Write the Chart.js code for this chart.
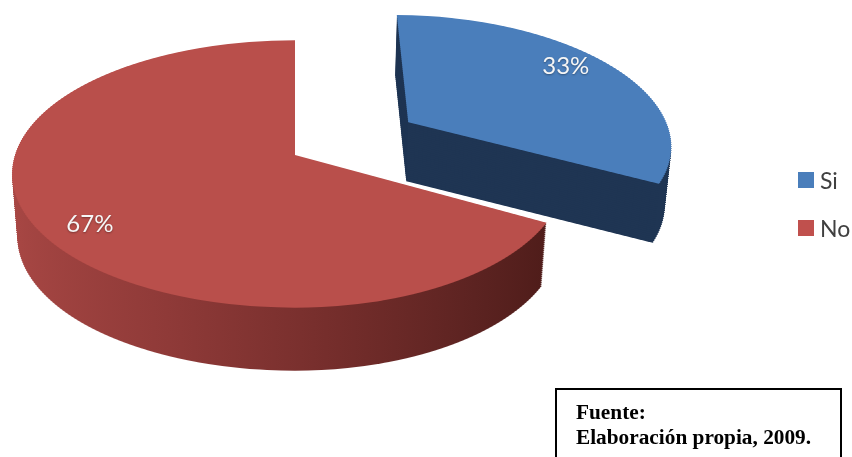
<!DOCTYPE html>
<html lang="es">
  <head>
    <meta charset="UTF-8" />
    <title>Si / No</title>
    <style>
      body { margin: 0; background: #fff; overflow: hidden; }
      #wrap { position: relative; width: 852px; height: 457px; overflow: hidden; }
      #pie { position: absolute; left: 0; top: 0; }
      .key {
        position: absolute; left: 798px; height: 16px; width: 60px;
        font: 23px/16px Lato, sans-serif; color: #404040;
      }
      .key i { position: absolute; left: 0; top: 0; width: 16px; height: 16px; }
      .key span { position: absolute; left: 22px; top: 0; }
      #fuente {
        position: absolute; left: 555px; top: 388px; width: 283px; height: 80px;
        border: 2px solid #000; box-sizing: content-box;
        font: bold 21.3px/25px "Liberation Serif", serif; color: #000;
      }
      #fuente div { position: absolute; left: 19px; top: 10px; white-space: nowrap; }
    </style>
  </head>
  <body>
    <div id="wrap">
      <canvas id="pie" width="852" height="457"></canvas>
      <div id="legend"></div>
      <div id="fuente"><div>Fuente:<br />Elaboración propia, 2009.</div></div>
    </div>

    <script src="https://cdn.jsdelivr.net/npm/chart.js"></script>
    <script>
      const categories = ["Si", "No"];
      const shares = [33, 67];
      const labels = ["33%", "67%"];
      const topColors = ["#4a7ebb", "#b94f4b"];
      const legendColors = ["#4a7ebb", "#c0504d"];

      // the pie is drawn flat by Chart.js and then squashed into perspective,
      // one thin strip of canvas at a time
      const RADIUS = 200;
      const X0 = 295, Y0 = 155;   // where the centre of the red slice lands
      const RX = 280, RY = 131;   // screen size of a unit radius
      const RIGHT_SIDE = 0.955;   // the reference is a bit narrower right of centre
      const TILT = 0.142;         // how much nearer things grow
      const DEPTH = [59, 63];     // wall height of each slice
      const STRIP = 2;
      const LABEL_R = 0.84, LABEL_TURN = 0.09;

      const vOf = (y) => (y - Y0) / (RY + TILT * (y - Y0));

      function drawWarped(ctx, arc, fill, drop) {
        const saved = arc.options;
        arc.options = Object.assign({}, saved, { backgroundColor: fill });
        const narrow = 1 - drop * 0.0003;
        for (let y = 0; y < 457; y += STRIP) {
          const v0 = vOf(y - drop);
          const v1 = vOf(y + STRIP - drop);
          const w = (narrow * RX) / RADIUS / (1 - TILT * (v0 + v1) / 2);
          [[0, X0, 1], [X0, 852, RIGHT_SIDE]].forEach(([from, to, k]) => {
            ctx.save();
            ctx.beginPath();
            ctx.rect(from, y, to - from, STRIP);
            ctx.clip();
            ctx.translate(X0, y);
            ctx.scale(w * k, STRIP / ((v1 - v0) * RADIUS));
            ctx.translate(-arc.x, -(arc.y + v0 * RADIUS));
            arc.draw(ctx);
            ctx.restore();
          });
        }
        arc.options = saved;
      }

      const project = (u, v) => ({
        x: X0 + ((u > 0 ? RIGHT_SIDE : 1) * RX * u) / (1 - TILT * v),
        y: Y0 + (RY * v) / (1 - TILT * v),
      });

      const perspectivePie = {
        id: "perspectivePie",
        beforeDatasetsDraw(chart) {
          const ctx = chart.ctx;
          const arcs = chart.getDatasetMeta(0).data;

          // Chart.js grows an exploded slice a little, take that back
          arcs.forEach((arc) => {
            const grow = (arc.options.offset / 4) * (1 - Math.sin(Math.min(Math.PI, arc.circumference)));
            arc.outerRadius = RADIUS - grow;
          });

          // gradient lives in the flat pie's space, so x is squeezed back
          const redWall = ctx.createLinearGradient(arcs[1].x - RADIUS, 0, arcs[1].x + RADIUS, 0);
          redWall.addColorStop(0, "#a84744");
          redWall.addColorStop(0.3, "#8f3a38");
          redWall.addColorStop(0.55, "#762e2c");
          redWall.addColorStop(0.8, "#5c2321");
          redWall.addColorStop(1, "#4a1a17");
          const walls = ["#1f3553", redWall];

          [0, 1].forEach((i) => {
            for (let d = DEPTH[i]; d > 0; d -= 2) drawWarped(ctx, arcs[i], walls[i], d);
            drawWarped(ctx, arcs[i], topColors[i], 0);
          });

          ctx.save();
          ctx.font = "24px Lato, sans-serif";
          ctx.textAlign = "center";
          ctx.textBaseline = "middle";
          ctx.shadowColor = "rgba(0,0,0,0.35)";
          ctx.shadowBlur = 2;
          ctx.shadowOffsetY = 1;
          ctx.fillStyle = "#f6f6f6";
          arcs.forEach((arc, i) => {
            const mid = (arc.startAngle + arc.endAngle) / 2;
            const shift = arc.options.offset / 4 / RADIUS;
            const p = project(
              Math.cos(mid - LABEL_TURN) * LABEL_R + Math.cos(mid) * shift,
              Math.sin(mid - LABEL_TURN) * LABEL_R + Math.sin(mid) * shift
            );
            ctx.fillText(labels[i], p.x, p.y);
          });
          ctx.restore();
          return false;
        },
      };

      new Chart(document.getElementById("pie"), {
        type: "pie",
        data: {
          labels: categories,
          datasets: [
            {
              data: shares,
              backgroundColor: topColors,
              borderWidth: 0,
              offset: [408, 0],
            },
          ],
        },
        options: {
          responsive: false,
          animation: false,
          radius: RADIUS,
          plugins: { legend: { display: false }, tooltip: { enabled: false } },
        },
        plugins: [perspectivePie],
      });

      const legend = document.getElementById("legend");
      categories.forEach((name, i) => {
        const row = document.createElement("div");
        row.className = "key";
        row.style.top = 172 + i * 48 + "px";
        row.innerHTML = '<i style="background:' + legendColors[i] + '"></i><span>' + name + "</span>";
        legend.appendChild(row);
      });
    </script>
  </body>
</html>
